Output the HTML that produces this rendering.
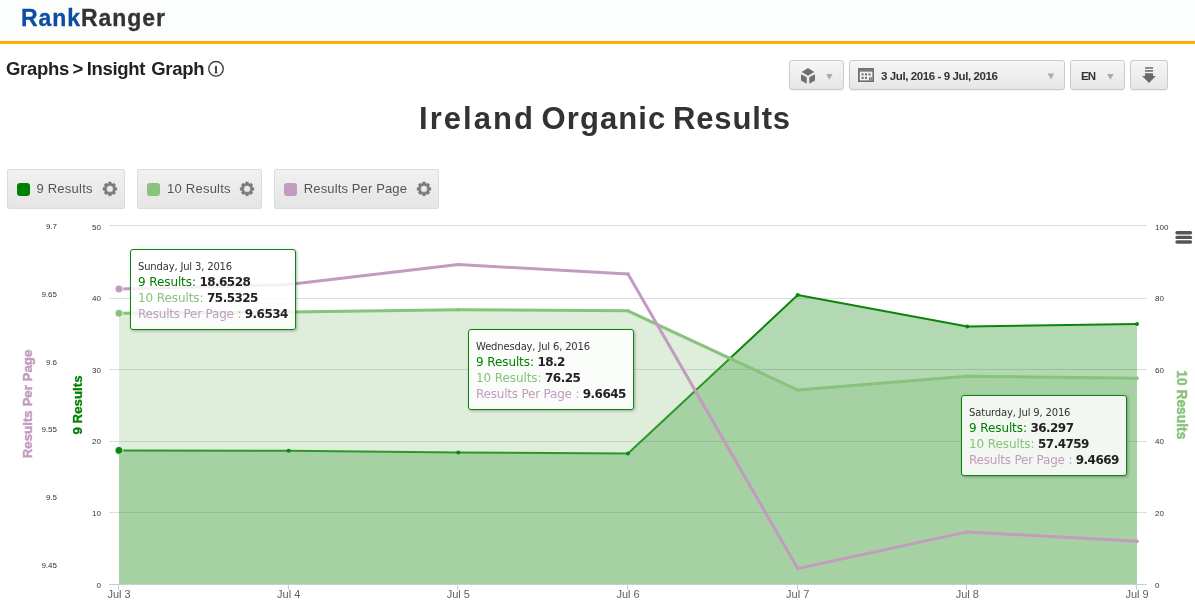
<!DOCTYPE html>
<html lang="en">
<head>
<meta charset="utf-8">
<title>Rank Ranger - Insight Graph</title>
<style>
*{box-sizing:border-box;margin:0;padding:0}
html,body{width:1195px;height:609px;overflow:hidden;background:#fff}
body{position:relative;font-family:"Liberation Sans",sans-serif;color:#333}
.abs{position:absolute;white-space:nowrap}
#topbar{left:0;top:0;width:1195px;height:41px;background:#fcfdfd}
#yline{left:0;top:41px;width:1195px;height:3px;background:#fdb100}
#logo{left:21px;top:4.3px;font-weight:bold;font-size:23px;line-height:28px;letter-spacing:.95px;-webkit-text-stroke:.3px;color:#333}
#logo b{color:#0c4da2}
#crumb{left:6px;top:56.5px;font-weight:bold;font-size:18.5px;line-height:24px;letter-spacing:-.31px;color:#222}
#title{left:0;top:97.4px;width:1210px;text-align:center;font-weight:bold;font-size:31px;line-height:44px;letter-spacing:1.08px;word-spacing:-3px;color:#333}
.tb{top:60px;height:30px;border:1px solid #cbcbcb;border-radius:3px;background:linear-gradient(#f6f6f6,#e6e6e6);box-shadow:0 1px 1px rgba(0,0,0,.06)}
.tbt{font-weight:bold;font-size:11.5px;line-height:14px;color:#333;letter-spacing:-.4px}
.lg{top:169px;height:40px;border:1px solid #dcdcdc;border-radius:2px;background:linear-gradient(#f1f1f1,#e5e5e5)}
.sw{top:183px;width:13px;height:13px;border-radius:3px}
.lgt{top:180.8px;font-size:13px;line-height:16px;color:#555;letter-spacing:.24px}
.tip{width:166px;height:81px;border:1px solid #0a860a;border-radius:3px;background:rgba(255,255,255,.85);box-shadow:1px 1px 3px rgba(0,0,0,.3);font-family:"DejaVu Sans","Liberation Sans",sans-serif;font-size:12px;color:#333;padding:0 0 0 7px;letter-spacing:-.21px}
.tip div{position:absolute;left:7px;white-space:nowrap;line-height:16px}
.tip .h{font-size:10px;letter-spacing:-.17px;top:9px}
.tip b{letter-spacing:-.57px;color:#222}
.c1{color:#008000;letter-spacing:-.1px}.c2{color:#88c27c;letter-spacing:-.1px}.c3{color:#c29bc0}
</style>
</head>
<body>
<div class="abs" id="topbar"></div>
<div class="abs" id="yline"></div>
<div class="abs" id="logo"><b>Rank</b>Ranger</div>
<div class="abs" id="crumb"><span style="word-spacing:-1.2px">Graphs &gt; </span>Insight<span style="word-spacing:1.3px"> </span>Graph</div>
<div class="abs" id="title"><span style="letter-spacing:2.02px">Ireland</span> <span>Organic</span> <span style="letter-spacing:.84px">Results</span></div>

<!-- toolbar -->
<div class="abs tb" style="left:789px;width:55px"></div>
<div class="abs tb" style="left:849px;width:216px"></div>
<div class="abs tb" style="left:1070px;width:55px"></div>
<div class="abs tb" style="left:1130px;width:38px"></div>
<div class="abs tbt" style="left:881px;top:68.6px">3 Jul, 2016 - 9 Jul, 2016</div>
<div class="abs tbt" style="left:1081px;top:68.6px;letter-spacing:-.9px">EN</div>

<!-- legend -->
<div class="abs lg" style="left:7px;width:118px"></div>
<div class="abs lg" style="left:137px;width:125px"></div>
<div class="abs lg" style="left:274px;width:165px"></div>
<div class="abs sw" style="left:17px;background:#008000"></div>
<div class="abs sw" style="left:147px;background:#88c27c"></div>
<div class="abs sw" style="left:284px;background:#c29bc0"></div>
<div class="abs lgt" style="left:36.4px">9 Results</div>
<div class="abs lgt" style="left:167px">10 Results</div>
<div class="abs lgt" style="left:303.8px;letter-spacing:.13px">Results Per Page</div>

<svg class="abs" id="icons" style="left:0;top:0" width="1195" height="220" viewBox="0 0 1195 220">
<circle cx="216" cy="68.8" r="7.3" fill="none" stroke="#444" stroke-width="1.4"/>
<text x="216" y="73" text-anchor="middle" font-family="Liberation Serif, serif" font-weight="bold" font-size="10.8" fill="#333" stroke="#333" stroke-width=".45">i</text>
<path d="M111.40 194.30L111.24 195.77L108.56 195.77L108.40 194.30L107.14 193.77L105.99 194.70L104.10 192.81L105.03 191.66L104.50 190.40L103.03 190.24L103.03 187.56L104.50 187.40L105.03 186.14L104.10 184.99L105.99 183.10L107.14 184.03L108.40 183.50L108.56 182.03L111.24 182.03L111.40 183.50L112.66 184.03L113.81 183.10L115.70 184.99L114.77 186.14L115.30 187.40L116.77 187.56L116.77 190.24L115.30 190.40L114.77 191.66L115.70 192.81L113.81 194.70L112.66 193.77ZM113.30 188.90A3.4 3.4 0 1 0 106.50 188.90A3.4 3.4 0 1 0 113.30 188.90Z" fill="#7a7a7a" fill-rule="evenodd" stroke="#7a7a7a" stroke-width=".5" stroke-linejoin="round"/>
<path d="M248.55 194.30L248.39 195.77L245.71 195.77L245.55 194.30L244.29 193.77L243.14 194.70L241.25 192.81L242.18 191.66L241.65 190.40L240.18 190.24L240.18 187.56L241.65 187.40L242.18 186.14L241.25 184.99L243.14 183.10L244.29 184.03L245.55 183.50L245.71 182.03L248.39 182.03L248.55 183.50L249.81 184.03L250.96 183.10L252.85 184.99L251.92 186.14L252.45 187.40L253.92 187.56L253.92 190.24L252.45 190.40L251.92 191.66L252.85 192.81L250.96 194.70L249.81 193.77ZM250.45 188.90A3.4 3.4 0 1 0 243.65 188.90A3.4 3.4 0 1 0 250.45 188.90Z" fill="#7a7a7a" fill-rule="evenodd" stroke="#7a7a7a" stroke-width=".5" stroke-linejoin="round"/>
<path d="M425.50 194.30L425.34 195.77L422.66 195.77L422.50 194.30L421.24 193.77L420.09 194.70L418.20 192.81L419.13 191.66L418.60 190.40L417.13 190.24L417.13 187.56L418.60 187.40L419.13 186.14L418.20 184.99L420.09 183.10L421.24 184.03L422.50 183.50L422.66 182.03L425.34 182.03L425.50 183.50L426.76 184.03L427.91 183.10L429.80 184.99L428.87 186.14L429.40 187.40L430.87 187.56L430.87 190.24L429.40 190.40L428.87 191.66L429.80 192.81L427.91 194.70L426.76 193.77ZM427.40 188.90A3.4 3.4 0 1 0 420.60 188.90A3.4 3.4 0 1 0 427.40 188.90Z" fill="#7a7a7a" fill-rule="evenodd" stroke="#7a7a7a" stroke-width=".5" stroke-linejoin="round"/>
<g fill="#707070"><path d="M808 68L814.3 71.9L808 75.8L801.7 71.9Z"/><path d="M801 74.3L806.7 77.3V83.8L801 80.6Z"/><path d="M815 74.3L809.3 77.3V83.8L815 80.6Z"/></g>
<path d="M826.1 74h6.6l-3.3 5.8z" fill="#ababab"/>
<path d="M1047.6 73.5h6.6l-3.3 5.8z" fill="#ababab"/>
<path d="M1107.1 74h6.6l-3.3 5.8z" fill="#ababab"/>
<g><rect x="858" y="68" width="16" height="14" fill="#6e6e6e"/><rect x="858" y="69.4" width="16" height="1" fill="#858585"/><rect x="859.8" y="71.6" width="12.6" height="8.8" fill="#f0f0f0"/><g fill="#6e6e6e"><rect x="861.6" y="73.4" width="2" height="2"/><rect x="865" y="73.4" width="2" height="2"/><rect x="868.5" y="73.4" width="2" height="2"/><rect x="861.6" y="76.9" width="2" height="2"/><rect x="865" y="76.9" width="2" height="2"/><rect x="869" y="77.4" width="3.4" height="3"/></g><path d="M870 80v-1.6h1.6z" fill="#f0f0f0"/></g>
<g fill="#6a6a6a"><rect x="1145" y="67.2" width="8" height="1.5"/><rect x="1145" y="70.1" width="8" height="1.6"/><path d="M1145 73.2h8v2.9h2.9l-6.9 6.8l-6.9-6.8h2.9z"/></g>
</svg>
<!-- CHART -->
<svg class="abs" id="chart" style="left:0;top:0" width="1195" height="609" viewBox="0 0 1195 609">
<path d="M109 225.5H1147" stroke="#dcdcdc" stroke-width="1" fill="none"/>
<path d="M109 298.5H1147" stroke="#dcdcdc" stroke-width="1" fill="none"/>
<path d="M109 369.5H1147" stroke="#dcdcdc" stroke-width="1" fill="none"/>
<path d="M109 441.5H1147" stroke="#dcdcdc" stroke-width="1" fill="none"/>
<path d="M109 512.5H1147" stroke="#dcdcdc" stroke-width="1" fill="none"/>
<path d="M119.0 450.4 L288.7 450.8 L458.3 452.5 L628.0 453.6 L797.7 295.1 L967.3 326.5 L1137.0 323.9 L1137.0 584.5 L119.0 584.5 Z" fill="#008000" fill-opacity=".3"/>
<polyline points="119.0,450.4 288.7,450.8 458.3,452.5 628.0,453.6 797.7,295.1 967.3,326.5 1137.0,323.9" fill="none" stroke="#0a860a" stroke-width="2" stroke-linejoin="round" stroke-linecap="round"/>
<path d="M119.0 313.3 L288.7 312.0 L458.3 309.8 L628.0 310.8 L797.7 390.0 L967.3 376.3 L1137.0 378.2 L1137.0 584.5 L119.0 584.5 Z" fill="#88c27c" fill-opacity=".28"/>
<path d="M109 584.5H1147" stroke="#c0d0e0" stroke-width="1" fill="none"/>
<path d="M118.5 584.5V590" stroke="#c0d0e0" stroke-width="1" fill="none"/>
<path d="M288.5 584.5V590" stroke="#c0d0e0" stroke-width="1" fill="none"/>
<path d="M457.5 584.5V590" stroke="#c0d0e0" stroke-width="1" fill="none"/>
<path d="M627.5 584.5V590" stroke="#c0d0e0" stroke-width="1" fill="none"/>
<path d="M797.5 584.5V590" stroke="#c0d0e0" stroke-width="1" fill="none"/>
<path d="M966.5 584.5V590" stroke="#c0d0e0" stroke-width="1" fill="none"/>
<path d="M1136.5 584.5V590" stroke="#c0d0e0" stroke-width="1" fill="none"/>
<polyline points="119.0,313.3 288.7,312.0 458.3,309.8 628.0,310.8 797.7,390.0 967.3,376.3 1137.0,378.2" fill="none" stroke="#88c27c" stroke-width="3" stroke-linejoin="round" stroke-linecap="round"/>
<polyline points="119.0,289.0 288.7,284.6 458.3,264.5 628.0,274.0 797.7,568.6 967.3,531.9 1137.0,541.2" fill="none" stroke="#c29bc0" stroke-width="3" stroke-linejoin="round" stroke-linecap="round"/>
<circle cx="119.0" cy="450.4" r="4" fill="#0a860a" stroke="#fff" stroke-width=".8"/>
<circle cx="288.7" cy="450.8" r="2" fill="#0a860a"/>
<circle cx="458.3" cy="452.5" r="2" fill="#0a860a"/>
<circle cx="628.0" cy="453.6" r="2" fill="#0a860a"/>
<circle cx="797.7" cy="295.1" r="2" fill="#0a860a"/>
<circle cx="967.3" cy="326.5" r="2" fill="#0a860a"/>
<circle cx="1137.0" cy="323.9" r="2" fill="#0a860a"/>
<circle cx="119.0" cy="313.3" r="4" fill="#88c27c" stroke="#fff" stroke-width=".8"/>
<circle cx="288.7" cy="312.0" r="1.8" fill="#88c27c"/>
<circle cx="458.3" cy="309.8" r="1.8" fill="#88c27c"/>
<circle cx="628.0" cy="310.8" r="1.8" fill="#88c27c"/>
<circle cx="797.7" cy="390.0" r="1.8" fill="#88c27c"/>
<circle cx="967.3" cy="376.3" r="1.8" fill="#88c27c"/>
<circle cx="1137.0" cy="378.2" r="1.8" fill="#88c27c"/>
<circle cx="119.0" cy="289.0" r="4" fill="#c29bc0" stroke="#fff" stroke-width=".8"/>
<circle cx="288.7" cy="284.6" r="1.8" fill="#c29bc0"/>
<circle cx="458.3" cy="264.5" r="1.8" fill="#c29bc0"/>
<circle cx="628.0" cy="274.0" r="1.8" fill="#c29bc0"/>
<circle cx="797.7" cy="568.6" r="1.8" fill="#c29bc0"/>
<circle cx="967.3" cy="531.9" r="1.8" fill="#c29bc0"/>
<circle cx="1137.0" cy="541.2" r="1.8" fill="#c29bc0"/>
<g font-family="Liberation Sans, sans-serif" font-size="8" fill="#333">
<text x="101" y="230" text-anchor="end">50</text>
<text x="101" y="301" text-anchor="end">40</text>
<text x="101" y="373" text-anchor="end">30</text>
<text x="101" y="444" text-anchor="end">20</text>
<text x="101" y="516" text-anchor="end">10</text>
<text x="101" y="588" text-anchor="end">0</text>
<text x="1155" y="230">100</text>
<text x="1155" y="301">80</text>
<text x="1155" y="373">60</text>
<text x="1155" y="444">40</text>
<text x="1155" y="516">20</text>
<text x="1155" y="588">0</text>
<text x="57" y="229.3" text-anchor="end">9.7</text>
<text x="57" y="297.0" text-anchor="end">9.65</text>
<text x="57" y="364.7" text-anchor="end">9.6</text>
<text x="57" y="432.4" text-anchor="end">9.55</text>
<text x="57" y="500.1" text-anchor="end">9.5</text>
<text x="57" y="567.8" text-anchor="end">9.45</text>
</g>
<g font-family="Liberation Sans, sans-serif" font-size="11" fill="#606060" text-anchor="middle">
<text x="119.0" y="597.5">Jul 3</text>
<text x="288.7" y="597.5">Jul 4</text>
<text x="458.3" y="597.5">Jul 5</text>
<text x="628.0" y="597.5">Jul 6</text>
<text x="797.7" y="597.5">Jul 7</text>
<text x="967.3" y="597.5">Jul 8</text>
<text x="1137.0" y="597.5">Jul 9</text>
</g>
<g font-family="Liberation Sans, sans-serif" font-size="13.3" font-weight="bold" text-anchor="middle">
<text transform="translate(31.5 404) rotate(-90)" fill="#c29bc0" stroke="#c29bc0" stroke-width=".45">Results Per Page</text>
<text transform="translate(81.5 405) rotate(-90)" fill="#008000" stroke="#008000" stroke-width=".3">9 Results</text>
<text transform="translate(1177.2 404.8) rotate(90)" fill="#88c27c" stroke="#88c27c" stroke-width=".45" font-size="13.8">10 Results</text>
</g>
<path d="M1177 232.7H1190.5M1177 237.4H1190.5M1177 242H1190.5" stroke="#555" stroke-width="3.4" stroke-linecap="round" fill="none"/>
</svg>

<!-- tooltips -->
<div class="abs tip" style="left:130px;top:249px">
 <div class="h">Sunday, Jul 3, 2016</div>
 <div style="top:24px"><span class="c1">9 Results: </span><b>18.6528</b></div>
 <div style="top:40px"><span class="c2">10 Results: </span><b>75.5325</b></div>
 <div style="top:56px"><span class="c3">Results Per Page : </span><b>9.6534</b></div>
</div>
<div class="abs tip" style="left:468px;top:329px">
 <div class="h">Wednesday, Jul 6, 2016</div>
 <div style="top:24px"><span class="c1">9 Results: </span><b>18.2</b></div>
 <div style="top:40px"><span class="c2">10 Results: </span><b>76.25</b></div>
 <div style="top:56px"><span class="c3">Results Per Page : </span><b>9.6645</b></div>
</div>
<div class="abs tip" style="left:961px;top:395px">
 <div class="h">Saturday, Jul 9, 2016</div>
 <div style="top:24px"><span class="c1">9 Results: </span><b>36.297</b></div>
 <div style="top:40px"><span class="c2">10 Results: </span><b>57.4759</b></div>
 <div style="top:56px"><span class="c3">Results Per Page : </span><b>9.4669</b></div>
</div>
</body>
</html>
